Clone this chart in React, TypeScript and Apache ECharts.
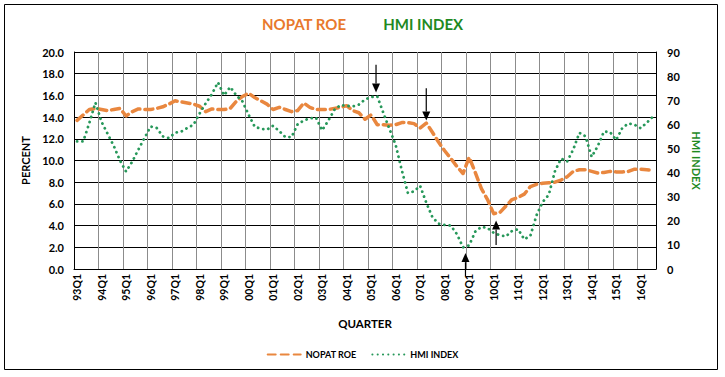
import React, { useEffect, useRef } from "react";
import * as echarts from "echarts";

const years = ["93","94","95","96","97","98","99","00","01","02","03","04","05","06","07","08","09","10","11","12","13","14","15","16"];
const quarterNames = ["Q1", "Q2", "Q3", "Q4"];
const lastYearQuarters = 3;

const nopatRoe = [
  13.7, 14.2, 14.7, 14.8, 14.7, 14.6, 14.7, 14.8, 14.1, 14.5, 14.75, 14.7,
  14.7, 14.8, 14.95, 15.2, 15.5, 15.4, 15.3, 15.2, 15.0, 14.5, 14.75, 14.7,
  14.7, 14.8, 15.45, 15.9, 16.2, 15.8, 15.5, 15.2, 14.7, 14.9, 14.7, 14.5,
  14.6, 15.3, 14.9, 14.7, 14.7, 14.7, 14.8, 14.9, 15.05, 14.6, 14.4, 13.8,
  14.2, 13.3, 13.3, 13.25, 13.3, 13.5, 13.5, 13.4, 13.0, 13.45, 12.6, 11.7,
  10.9, 10.2, 9.45, 8.8, 10.3, 8.9, 7.4, 6.4, 5.1, 5.2, 5.8, 6.4,
  6.6, 6.9, 7.6, 7.8, 7.9, 7.95, 8.0, 8.2, 8.5, 9.0, 9.15, 9.15,
  9.0, 8.85, 8.9, 9.0, 8.95, 8.95, 9.0, 9.2, 9.2, 9.15, 9.1
];

const hmiIndex = [
  52.9, 52.9, 60.5, 69, 61, 56, 51, 45, 40.4, 44.5, 49.5, 54.3,
  59.1, 58.5, 55, 54.3, 56.5, 57, 58.5, 59.8, 64.5, 68.7, 72.5, 77.4,
  72, 75.5, 72, 69.5, 64, 59, 58.2, 57.8, 59.4, 57.2, 54.7, 54.7,
  60, 61.6, 62.5, 62.8, 57.5, 61.5, 66, 68, 67.7, 67.4, 68.2, 70.3,
  71.3, 71.6, 64.7, 58, 51.5, 41, 31.5, 32.2, 34.5, 27.5, 21.5, 18.8,
  18.3, 18, 14.5, 9, 9.8, 15.5, 17.5, 17, 15, 14, 13.5, 15.8,
  16.5, 12.3, 13.8, 22.3, 27.8, 30.8, 40.5, 45.8, 44.6, 49.6, 56.5, 55,
  46.5, 51, 57, 56.8, 53.5, 58.5, 60.4, 59.8, 58.4, 60.7, 63.2
];

// annotation arrows: category position (index units) and HMI-axis values of tail and tip
const arrowAt = [48.8, 57.0, 63.4, 68.4];
const arrowFrom = [84.7, 75.0, -2.9, 10.0];
const arrowTo = [73.2, 61.6, 6.6, 20.1];

const quarters: string[] = [];
years.forEach((y, yi) => {
  const n = yi === years.length - 1 ? lastYearQuarters : 4;
  for (let q = 0; q < n; q++) quarters.push(y + quarterNames[q]);
});

const FONT = "Lato";
const ORANGE = "#E9873F";
const GREEN = "#27985A";

export default function App() {
  const ref = useRef<HTMLDivElement>(null);
  useEffect(() => {
    if (!ref.current) return;
    const chart = echarts.init(ref.current, undefined, { renderer: "svg" });
    const border = {
      type: "rect",
      id: "border",
      silent: true,
      shape: { x: 4.5, y: 4.5, width: 713, height: 365 },
      style: { fill: "none", stroke: "#000", lineWidth: 1 },
    };
    chart.setOption({
      animation: false,
      backgroundColor: "#fff",
      textStyle: { fontFamily: FONT },
      title: {
        left: "center",
        top: 11,
        text: "{a|NOPAT ROE}{g| }{b|HMI INDEX}",
        textStyle: {
          rich: {
            a: { color: "#E8792C", fontSize: 15, fontWeight: "bold", fontFamily: FONT },
            g: { width: 37, fontSize: 15 },
            b: { color: "#1F8A1F", fontSize: 15, fontWeight: "bold", fontFamily: FONT },
          },
        },
      },
      legend: {
        top: 345,
        left: "center",
        itemWidth: 33,
        itemHeight: 10,
        itemGap: 15,
        itemStyle: { opacity: 0 },
        textStyle: { fontSize: 9, fontWeight: "bold", color: "#000", fontFamily: FONT },
        data: ["NOPAT ROE", "HMI INDEX"],
      },
      grid: { left: 74, right: 69, top: 52, bottom: 108, containLabel: false },
      xAxis: {
        type: "category",
        data: quarters,
        boundaryGap: true,
        name: "QUARTER",
        nameLocation: "middle",
        nameGap: 48,
        nameTextStyle: { fontSize: 11.5, fontWeight: "bold", color: "#000", fontFamily: FONT },
        axisLine: { lineStyle: { color: "#000", width: 1 } },
        axisTick: { show: false },
        axisLabel: {
          interval: 3,
          rotate: 90,
          margin: 5,
          fontSize: 10.5,
          fontWeight: "bold",
          color: "#000",
          fontFamily: FONT,
        },
        splitLine: { show: true, interval: 3, lineStyle: { color: "#8c8c8c", width: 1 } },
      },
      yAxis: [
        {
          type: "value",
          min: 0,
          max: 20,
          interval: 2,
          name: "PERCENT",
          nameLocation: "middle",
          nameGap: 37,
          nameRotate: 90,
          nameTextStyle: { fontSize: 11, fontWeight: "bold", color: "#000", fontFamily: FONT },
          axisLine: { show: true, lineStyle: { color: "#000", width: 1 } },
          axisTick: { show: false },
          axisLabel: {
            formatter: (v: number) => v.toFixed(1),
            fontSize: 11,
            fontWeight: "bold",
            color: "#000",
            margin: 10,
            fontFamily: FONT,
          },
          splitLine: { show: true, lineStyle: { color: "#000", width: 1 } },
        },
        {
          type: "value",
          min: 0,
          max: 90,
          interval: 10,
          position: "right",
          name: "HMI INDEX",
          nameLocation: "middle",
          nameGap: 30,
          nameRotate: -90,
          nameTextStyle: { fontSize: 11, fontWeight: "bold", color: "#1F8A1F", fontFamily: FONT },
          axisLine: { show: true, lineStyle: { color: "#000", width: 1 } },
          axisTick: { show: false },
          axisLabel: {
            fontSize: 11,
            fontWeight: "bold",
            color: "#000",
            margin: 11,
            fontFamily: FONT,
          },
          splitLine: { show: false },
        },
      ],
      series: [
        {
          name: "NOPAT ROE",
          type: "line",
          data: nopatRoe,
          yAxisIndex: 0,
          symbol: "none",
          showSymbol: false,
          itemStyle: { color: ORANGE },
          lineStyle: { color: ORANGE, width: 3.5, type: [8, 5], cap: "round", join: "round" },
          emphasis: { disabled: true },
          z: 3,
        },
        {
          name: "HMI INDEX",
          type: "line",
          data: hmiIndex,
          yAxisIndex: 1,
          symbol: "none",
          showSymbol: false,
          itemStyle: { color: GREEN },
          lineStyle: { color: GREEN, width: 2.8, type: [0.1, 5.2], cap: "round", join: "round" },
          emphasis: { disabled: true },
          z: 4,
        },
      ],
      graphic: [border],
    });

    const finder = { xAxisIndex: 0, yAxisIndex: 1 };
    const toPx = (idx: number, v: number) => {
      const i0 = Math.floor(idx);
      const f = idx - i0;
      const a = chart.convertToPixel(finder as any, [i0, v]) as number[];
      const b = chart.convertToPixel(finder as any, [i0 + 1, v]) as number[];
      return [a[0] + f * (b[0] - a[0]), a[1]];
    };
    const arrowEls: any[] = [];
    arrowAt.forEach((at, k) => {
      const [x, y1] = toPx(at, arrowFrom[k]);
      const [, y2] = toPx(at, arrowTo[k]);
      const dir = y2 > y1 ? 1 : -1;
      const head = 9;
      arrowEls.push({
        type: "line",
        id: "al" + k,
        silent: true,
        z: 50,
        shape: { x1: x, y1: y1, x2: x, y2: y2 - dir * head },
        style: { stroke: "#000", lineWidth: 1.2 },
      });
      arrowEls.push({
        type: "polygon",
        id: "ah" + k,
        silent: true,
        z: 50,
        shape: { points: [[x - 4, y2 - dir * head], [x + 4, y2 - dir * head], [x, y2]] },
        style: { fill: "#000" },
      });
    });
    chart.setOption({ graphic: [border, ...arrowEls] });

    return () => chart.dispose();
  }, []);
  return (
    <div
      ref={ref}
      style={{ position: "absolute", left: 0, top: 0, width: 725, height: 377, background: "#fff" }}
    />
  );
}
